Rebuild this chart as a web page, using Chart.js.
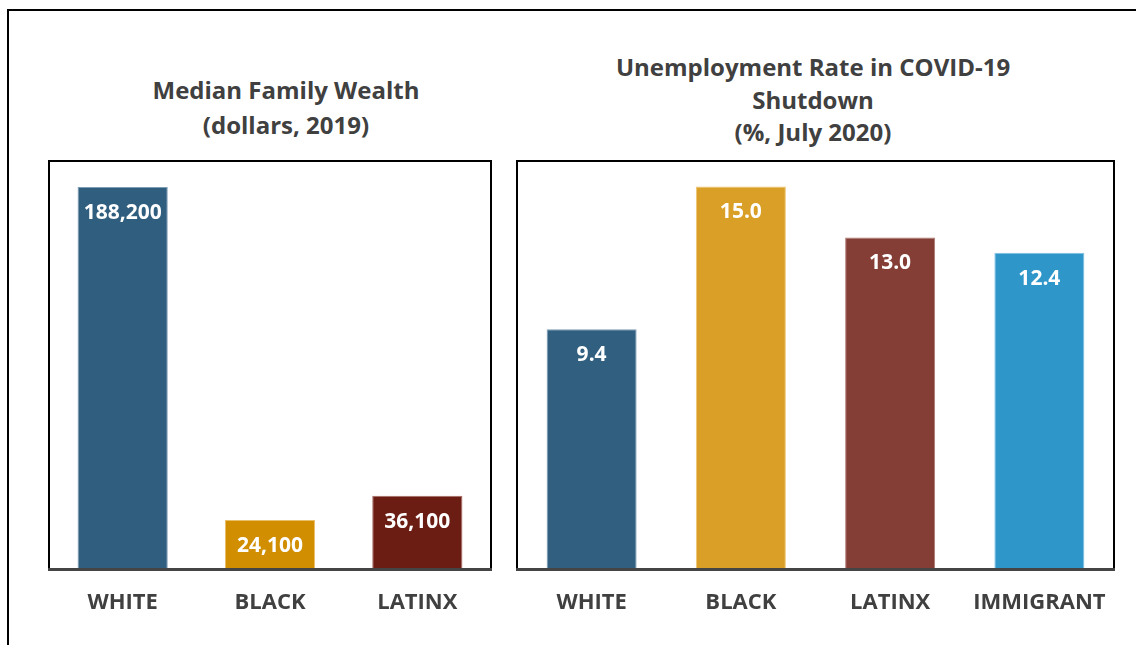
<!DOCTYPE html>
<html>
<head>
<meta charset="utf-8">
<script src="https://cdn.jsdelivr.net/npm/chart.js@4.4.1/dist/chart.umd.min.js"></script>
<style>
  html, body { margin:0; padding:0; background:#fff; }
  body { width:1136px; height:645px; position:relative; overflow:hidden; font-family:"Open Sans", sans-serif; }
  #frame { position:absolute; left:7px; top:9px; right:-10px; bottom:-10px; border-top:2px solid #000; border-left:2px solid #000; }
  .title { position:absolute; color:#404040; font-weight:700; font-size:24px; text-align:center; white-space:nowrap; }
  #t1 { left:86px; width:400px; top:72px; line-height:35px; }
  #t2 { left:613px; width:400px; top:51px; line-height:32.5px; }
  canvas { position:absolute; top:0; }
  #c1 { left:0; }
  #c2 { left:500px; }
</style>
</head>
<body>
<div id="frame"></div>
<div class="title" id="t1">Median Family Wealth<br>(dollars, 2019)</div>
<div class="title" id="t2">Unemployment Rate in COVID-19<br>Shutdown<br>(%, July 2020)</div>
<canvas id="c1" width="505" height="645"></canvas>
<canvas id="c2" width="636" height="645"></canvas>
<script>
// ---- data ----
const wealthCategories = ["WHITE", "BLACK", "LATINX"];
const wealthValues = [188200, 24100, 36100];
const wealthColors = ["#305e7f", "#d18e00", "#6c1d13"];
const wealthBorders = ["#7d9db5", "#e8bf6a", "#a86a62"];

const unempCategories = ["WHITE", "BLACK", "LATINX", "IMMIGRANT"];
const unempValues = [9.4, 15.0, 13.0, 12.4];
const unempColors = ["#315f80", "#d99f27", "#843e36", "#2e96c9"];
const unempBorders = ["#7d9db5", "#f0c670", "#b07a74", "#7cc2e6"];

// ---- plugins ----
const valueLabels = {
  id: 'valueLabels',
  afterDatasetsDraw(chart, args, opts) {
    const ctx = chart.ctx;
    const meta = chart.getDatasetMeta(0);
    const data = chart.data.datasets[0].data;
    ctx.save();
    ctx.font = 'bold 21px "Open Sans"';
    ctx.fillStyle = '#ffffff';
    ctx.textAlign = 'center';
    ctx.textBaseline = 'middle';
    meta.data.forEach((bar, i) => {
      ctx.fillText(opts.format(data[i]), bar.x, bar.y + 26);
    });
    ctx.restore();
  }
};
const panelFrame = {
  id: 'panelFrame',
  afterDraw(chart) {
    const { ctx, chartArea: { left, top, right, bottom } } = chart;
    ctx.save();
    ctx.strokeStyle = '#000';
    ctx.lineWidth = 2;
    ctx.beginPath();
    ctx.moveTo(left, bottom);
    ctx.lineTo(left, top);
    ctx.lineTo(right, top);
    ctx.lineTo(right, bottom);
    ctx.stroke();
    ctx.strokeStyle = '#444444';
    ctx.lineWidth = 3;
    ctx.beginPath();
    ctx.moveTo(left - 1, bottom + 0.5);
    ctx.lineTo(right + 1, bottom + 0.5);
    ctx.stroke();
    ctx.restore();
  }
};

function makeChart(id, cats, vals, colors, borders, yMax, barPct, pad, fmt) {
  return new Chart(document.getElementById(id), {
    type: 'bar',
    data: {
      labels: cats,
      datasets: [{
        data: vals,
        backgroundColor: colors,
        borderColor: borders,
        borderWidth: 1,
        borderSkipped: 'bottom',
        categoryPercentage: 1.0,
        barPercentage: barPct
      }]
    },
    options: {
      responsive: false,
      animation: false,
      devicePixelRatio: 1,
      layout: { padding: pad },
      plugins: {
        legend: { display: false },
        tooltip: { enabled: false },
        title: { display: false },
        valueLabels: { format: fmt }
      },
      scales: {
        y: { display: false, min: 0, max: yMax },
        x: {
          grid: { display: false, drawTicks: false },
          border: { display: false },
          ticks: {
            color: '#404040',
            padding: 21,
            font: { family: 'Open Sans', weight: 'bold', size: 22 }
          },
          afterFit(scale) { scale.height = 76; }
        }
      }
    },
    plugins: [valueLabels, panelFrame]
  });
}

makeChart('c1', wealthCategories, wealthValues, wealthColors, wealthBorders, 201000, 90 / 147,
  { left: 49, right: 14, top: 161, bottom: 0 }, v => v.toLocaleString('en-US'));
makeChart('c2', unempCategories, unempValues, unempColors, unempBorders, 16, 90 / 149.25,
  { left: 17, right: 22, top: 161, bottom: 0 }, v => v.toFixed(1));
</script>
</body>
</html>
